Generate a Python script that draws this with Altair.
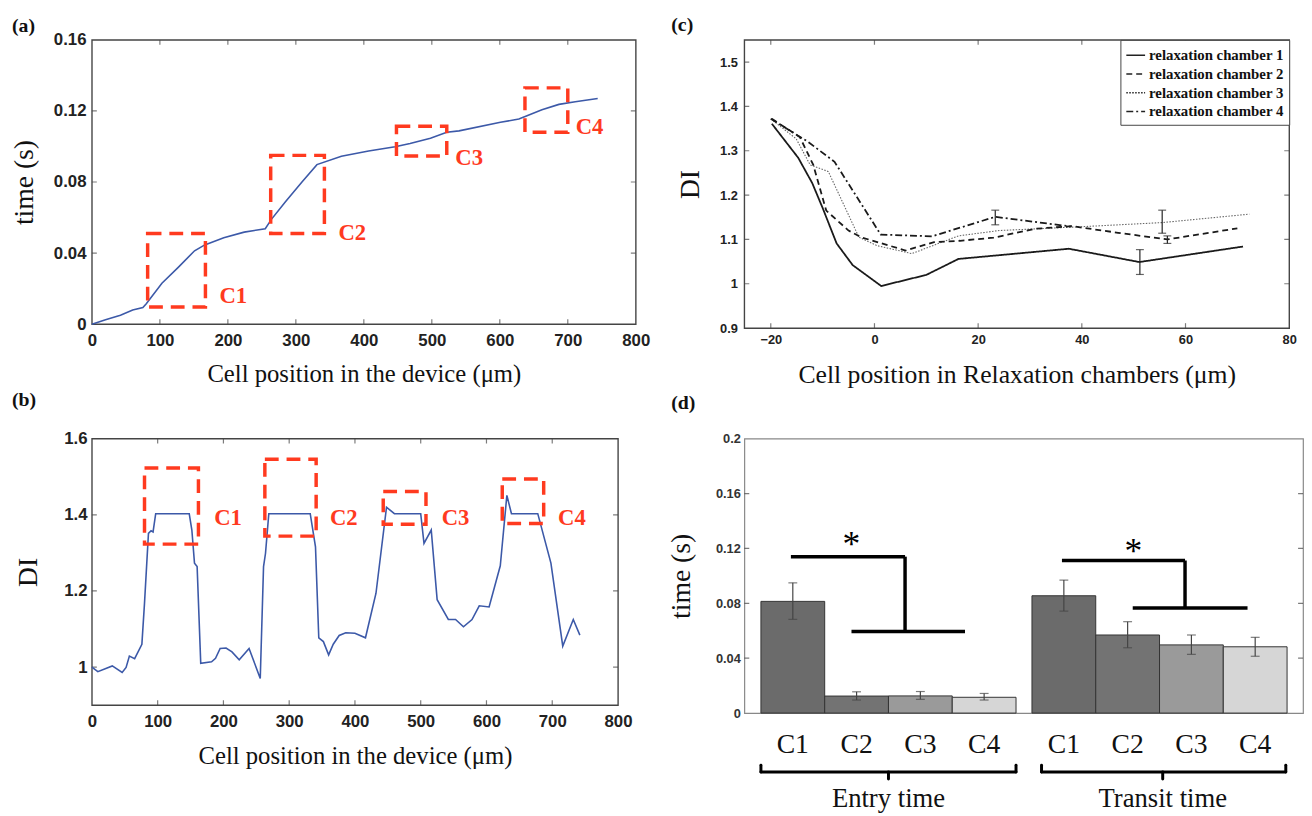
import altair as alt
import pandas as pd

SERIF = "Liberation Serif"
SANS = "Liberation Sans"
RED = "#ff3a1f"
BLUE = "#3c59a8"
FRAME = "#444444"

# ---------------- (a) time vs position ----------------
a_position = [0, 20, 42, 60, 75, 80, 103, 127, 151, 166, 194, 224, 255, 264, 285, 309, 331,
              367, 407, 446, 468, 498, 522, 540, 601, 628, 640, 662, 687, 711, 744]
a_time = [0, 0.0025, 0.005, 0.008, 0.0093, 0.0115, 0.023, 0.032, 0.0413, 0.0446, 0.0486, 0.0518,
          0.0537, 0.059, 0.069, 0.080, 0.0898, 0.0945, 0.0975, 0.0999, 0.1017, 0.1047, 0.108,
          0.1088, 0.1136, 0.1155, 0.1173, 0.1207, 0.1237, 0.1252, 0.127]
a_box_x1 = [82, 263, 448, 637]
a_box_x2 = [167, 342, 522, 700]
a_box_y1 = [0.0097, 0.051, 0.0947, 0.108]
a_box_y2 = [0.051, 0.095, 0.1114, 0.133]
a_lab_x = [208, 383, 555, 732]
a_lab_y = [0.016, 0.0514, 0.0932, 0.111]
box_names = ["C1", "C2", "C3", "C4"]

# ---------------- (b) DI vs position ----------------
b_position = [0, 9, 31, 46, 52, 57, 65, 76, 80, 86, 90, 93, 97, 148, 152, 156, 160, 165.5, 182, 188,
              195, 204, 213, 224, 239, 256, 261, 264, 269, 332, 340, 345, 352, 360, 367, 376, 386, 400,
              416, 432, 448, 460, 500, 505, 516, 525, 542, 553, 565, 578, 589, 604, 621, 631, 638, 678,
              698, 716, 732, 742]
b_di = [1.0, 0.988, 1.003, 0.986, 0.999, 1.029, 1.022, 1.06, 1.168, 1.351, 1.358, 1.355, 1.403, 1.403,
        1.36, 1.273, 1.264, 1.01, 1.014, 1.023, 1.049, 1.05, 1.04, 1.019, 1.049, 0.970, 1.264, 1.299,
        1.403, 1.403, 1.316, 1.077, 1.067, 1.032, 1.06, 1.083, 1.090, 1.089, 1.077, 1.194, 1.42, 1.403,
        1.403, 1.325, 1.36, 1.177, 1.125, 1.125, 1.106, 1.125, 1.161, 1.158, 1.266, 1.451, 1.403, 1.403,
        1.273, 1.055, 1.125, 1.084]
b_box_x1 = [80, 263, 443, 624]
b_box_x2 = [162, 341, 508, 687]
b_box_y1 = [1.323, 1.344, 1.375, 1.377]
b_box_y2 = [1.523, 1.546, 1.461, 1.494]
b_lab_x = [207, 383, 553, 730]
b_lab_y = [1.392, 1.392, 1.392, 1.392]

# ---------------- (c) relaxation chambers ----------------
ch_names = ["relaxation chamber 1", "relaxation chamber 2", "relaxation chamber 3", "relaxation chamber 4"]
c1_x = [-19.8, -14.7, -12, -10, -7.3, -4.2, 1.3, 10, 16.2, 37.5, 51.1, 71.1]
c1_y = [1.361, 1.284, 1.227, 1.171, 1.091, 1.042, 0.995, 1.02, 1.056, 1.079, 1.049, 1.084]
c2_x = [-19.8, -14.4, -11.8, -9.3, -5, -2.6, 6, 11.5, 16.5, 23, 31, 38, 47, 56.5, 70]
c2_y = [1.372, 1.331, 1.268, 1.165, 1.12, 1.105, 1.075, 1.094, 1.097, 1.104, 1.124, 1.13, 1.115, 1.10, 1.125]
c3_x = [-20, -15.1, -12.4, -8.9, -3, 0.5, 7.2, 16.2, 24, 40.5, 55.5, 72.3]
c3_y = [1.372, 1.327, 1.268, 1.253, 1.105, 1.086, 1.068, 1.108, 1.12, 1.129, 1.138, 1.157]
c4_x = [-20, -12.8, -7.7, 1.2, 11.1, 23.3, 38]
c4_y = [1.372, 1.32, 1.275, 1.111, 1.107, 1.151, 1.129]
c_err_x = [23.3, 51.2, 55.5, 56.5]
c_err_lo = [1.133, 1.021, 1.114, 1.091]
c_err_hi = [1.166, 1.077, 1.166, 1.108]

# ---------------- (d) bar chart ----------------
d_group = ["Entry time"] * 4 + ["Transit time"] * 4
d_cat = ["C1", "C2", "C3", "C4"] * 2
d_center = [1, 2, 3, 4, 5.25, 6.25, 7.25, 8.25]
d_mean = [0.0814, 0.0124, 0.0125, 0.0115, 0.0855, 0.0569, 0.0497, 0.0483]
d_lo = [0.0683, 0.0095, 0.0100, 0.0095, 0.0743, 0.0476, 0.0428, 0.0414]
d_hi = [0.0949, 0.0155, 0.0157, 0.0143, 0.0969, 0.0666, 0.0569, 0.0552]
d_fill = ["#6b6b6b", "#737373", "#9a9a9a", "#d6d6d6"] * 2
br_x1 = [0.97, 2.76, 1.92, 5.22, 7.15, 6.33]
br_x2 = [2.76, 2.76, 3.70, 7.15, 7.15, 8.13]
br_y1 = [0.114, 0.114, 0.0595, 0.1112, 0.1112, 0.0766]
br_y2 = [0.114, 0.0595, 0.0595, 0.1112, 0.0766, 0.0766]
star_x = [1.92, 6.34]
star_y = [0.1145, 0.1095]
brace_x1 = [0.5, 4.9]
brace_x2 = [4.5, 8.73]
brace_mid = [2.5, 6.8]
brace_y = -0.043
cat_label_y = -0.0236
group_label_y = -0.0625


# ---------------- helpers ----------------
def xenc(field, dom, axis):
    return alt.X(f"{field}:Q", scale=alt.Scale(domain=dom, nice=False, zero=False), axis=axis)


def yenc(field, dom, axis):
    return alt.Y(f"{field}:Q", scale=alt.Scale(domain=dom, nice=False, zero=False), axis=axis)


def inside_ticks(xticks, yticks, xdom, ydom, xax, yax, top=True, bottom=True):
    layers = []
    tx, ty = [], []
    if bottom:
        tx += list(xticks)
        ty += [ydom[0]] * len(xticks)
    if top:
        tx += list(xticks)
        ty += [ydom[1]] * len(xticks)
    if tx:
        df = pd.DataFrame({"tx": tx, "ty": ty})
        layers.append(alt.Chart(df).mark_tick(orient="vertical", size=10, thickness=1.2,
                                              color=FRAME, clip=True)
                      .encode(x=xenc("tx", xdom, xax), y=yenc("ty", ydom, yax)))
    if yticks:
        df = pd.DataFrame({"tx": [xdom[0]] * len(yticks) + [xdom[1]] * len(yticks),
                           "ty": list(yticks) * 2})
        layers.append(alt.Chart(df).mark_tick(orient="horizontal", size=10, thickness=1.2,
                                              color=FRAME, clip=True)
                      .encode(x=xenc("tx", xdom, xax), y=yenc("ty", ydom, yax)))
    return layers


def panel_title(text, dx, offset):
    return alt.TitleParams(text=text, anchor="start", frame="group", dx=dx, offset=offset,
                           font=SERIF, fontSize=20, fontWeight="bold", color="#111")


def lin_axis(values, fmt, size, pad, title, tsize, tx=None, ty=None, lcolor="#222"):
    kw = dict(values=values, format=fmt, ticks=False, domain=False, grid=False,
              labelFont=SANS, labelFontWeight="bold", labelFontSize=size, labelColor=lcolor,
              labelPadding=pad, labelFlush=False, labelOverlap=False,
              title=title, titleFont=SERIF, titleFontSize=tsize, titleFontWeight="normal",
              titleColor="#111", titleBaseline="middle")
    if tx is not None:
        kw["titleX"] = tx
    if ty is not None:
        kw["titleY"] = ty
    return alt.Axis(**kw)


def boxes_layers(x1, x2, y1, y2, lx, ly, xdom, ydom, xax, yax):
    bdf = pd.DataFrame({"x1": x1, "x2": x2, "y1": y1, "y2": y2})
    box = alt.Chart(bdf).mark_rect(fillOpacity=0, stroke=RED, strokeWidth=3.5,
                                   strokeDash=[14, 8]).encode(
        x=xenc("x1", xdom, xax), x2="x2:Q", y=yenc("y1", ydom, yax), y2="y2:Q")
    ldf = pd.DataFrame({"lx": lx, "ly": ly, "name": box_names})
    lab = alt.Chart(ldf).mark_text(font=SERIF, fontSize=23, fontWeight="bold", color=RED,
                                   baseline="middle", align="center").encode(
        x=xenc("lx", xdom, xax), y=yenc("ly", ydom, yax), text="name:N")
    return [box, lab]


VIEW = alt.ViewBackground(stroke=FRAME, strokeWidth=1.4, fill="white")

# ---------------- panel (a) ----------------
a_xdom, a_ydom = [0, 800], [0, 0.16]
a_xax = lin_axis(list(range(0, 801, 100)), "d", 17, 9, "Cell position in the device (μm)", 25, ty=50)
a_yax = lin_axis([0, 0.04, 0.08, 0.12, 0.16], ".2~f", 17, 6, "time (s)", 28, tx=-68)
a_df = pd.DataFrame({"pos": a_position, "t": a_time})
a_line = alt.Chart(a_df).mark_line(color=BLUE, strokeWidth=1.6).encode(
    x=xenc("pos", a_xdom, a_xax), y=yenc("t", a_ydom, a_yax))
chart_a = alt.layer(
    *inside_ticks(list(range(100, 701, 100)), [0.04, 0.08, 0.12], a_xdom, a_ydom, a_xax, a_yax),
    a_line,
    *boxes_layers(a_box_x1, a_box_x2, a_box_y1, a_box_y2, a_lab_x, a_lab_y, a_xdom, a_ydom, a_xax, a_yax),
).properties(width=551, height=288, title=panel_title("(a)", -81, -5), view=VIEW)

# ---------------- panel (b) ----------------
b_xdom, b_ydom = [0, 800], [0.9, 1.6]
b_xax = lin_axis(list(range(0, 801, 100)), "d", 17, 9, "Cell position in the device (μm)", 25, ty=51)
b_yax = lin_axis([1.0, 1.2, 1.4, 1.6], "~g", 17, 5, "DI", 28, tx=-64)
b_df = pd.DataFrame({"pos": b_position, "di": b_di})
b_line = alt.Chart(b_df).mark_line(color=BLUE, strokeWidth=1.6).encode(
    x=xenc("pos", b_xdom, b_xax), y=yenc("di", b_ydom, b_yax))
chart_b = alt.layer(
    *inside_ticks(list(range(100, 701, 100)), [1.0, 1.2, 1.4], b_xdom, b_ydom, b_xax, b_yax),
    b_line,
    *boxes_layers(b_box_x1, b_box_x2, b_box_y1, b_box_y2, b_lab_x, b_lab_y, b_xdom, b_ydom, b_xax, b_yax),
).properties(width=533, height=270, title=panel_title("(b)", -81, 20), view=VIEW)

# ---------------- panel (c) ----------------
c_xdom, c_ydom = [-25.1, 80], [0.9, 1.55]
c_xax = lin_axis([-20, 0, 20, 40, 60, 80], "d", 13, 6, "Cell position in Relaxation chambers (μm)", 26, ty=47)
c_yax = lin_axis([0.9, 1.0, 1.1, 1.2, 1.3, 1.4, 1.5], "~g", 13, 7, "DI", 28, tx=-54)
rows = []
for name, xs, ys in zip(ch_names, [c1_x, c2_x, c3_x, c4_x], [c1_y, c2_y, c3_y, c4_y]):
    for xv, yv in zip(xs, ys):
        rows.append({"cx": xv, "cy": yv, "ch": name})
c_df = pd.DataFrame(rows)
c_main = c_df[c_df["ch"] != ch_names[2]]
c_third = c_df[c_df["ch"] == ch_names[2]]
c_lines = alt.Chart(c_main).mark_line(color="#1a1a1a", strokeWidth=1.8).encode(
    x=xenc("cx", c_xdom, c_xax), y=yenc("cy", c_ydom, c_yax),
    strokeDash=alt.StrokeDash("ch:N", scale=alt.Scale(domain=ch_names,
                                                      range=[[1, 0], [6, 4], [1.5, 1.5], [7, 3, 2, 3]]),
                              legend=alt.Legend(title=None, orient="top-right", offset=0, padding=5,
                                                strokeColor=FRAME, fillColor="white",
                                                labelFont=SERIF, labelFontSize=15, labelFontWeight="bold",
                                                labelColor="#111", symbolType="stroke", symbolSize=361,
                                                symbolStrokeColor="#222", symbolStrokeWidth=1.5,
                                                rowPadding=0, labelOffset=3)),
)
c_line3 = alt.Chart(c_third).mark_line(color="#666666", strokeWidth=1.1, strokeDash=[1.5, 1.5]).encode(
    x=xenc("cx", c_xdom, c_xax), y=yenc("cy", c_ydom, c_yax))
ce_df = pd.DataFrame({"ex": c_err_x, "elo": c_err_lo, "ehi": c_err_hi})
c_err = alt.Chart(ce_df).mark_rule(color="#222", strokeWidth=1.2).encode(
    x=xenc("ex", c_xdom, c_xax), y=yenc("elo", c_ydom, c_yax), y2="ehi:Q")
cc_df = pd.DataFrame({"ex": c_err_x * 2, "ey": c_err_lo + c_err_hi})
c_caps = alt.Chart(cc_df).mark_tick(orient="horizontal", size=8, thickness=1.2, color="#222").encode(
    x=xenc("ex", c_xdom, c_xax), y=yenc("ey", c_ydom, c_yax))
chart_c = alt.layer(
    *inside_ticks([-20, 0, 20, 40, 60], [1.0, 1.1, 1.2, 1.3, 1.4, 1.5], c_xdom, c_ydom, c_xax, c_yax),
    c_line3, c_lines, c_err, c_caps,
).properties(width=552, height=292, title=panel_title("(c)", -74, 5), view=VIEW)

# ---------------- panel (d) ----------------
d_xdom, d_ydom = [0.24, 9.0], [0, 0.2]
d_xax = None
d_yax = lin_axis([0, 0.04, 0.08, 0.12, 0.16, 0.2], ".2~f", 13, 4, "time (s)", 28, tx=-64, lcolor="#333")
d_df = pd.DataFrame({"group": d_group, "cat": d_cat, "center": d_center, "mean": d_mean,
                     "lo": d_lo, "hi": d_hi, "fill": d_fill})
d_df["left"] = d_df["center"] - 0.5
d_df["right"] = d_df["center"] + 0.5
d_df["zero"] = 0.0
d_bars = alt.Chart(d_df).mark_rect(stroke="#333", strokeWidth=1).encode(
    x=xenc("left", d_xdom, d_xax), x2="right:Q", y=yenc("mean", d_ydom, d_yax), y2="zero:Q",
    fill=alt.Fill("fill:N", scale=None))
d_err = alt.Chart(d_df).mark_rule(color="#444", strokeWidth=1.2).encode(
    x=xenc("center", d_xdom, d_xax), y=yenc("lo", d_ydom, d_yax), y2="hi:Q")
dc_df = pd.DataFrame({"cx": d_center * 2, "cy": d_lo + d_hi})
d_caps = alt.Chart(dc_df).mark_tick(orient="horizontal", size=9, thickness=1.2, color="#444").encode(
    x=xenc("cx", d_xdom, d_xax), y=yenc("cy", d_ydom, d_yax))
br_df = pd.DataFrame({"x1": br_x1, "x2": br_x2, "y1": br_y1, "y2": br_y2})
d_br = alt.Chart(br_df).mark_rule(color="#000", strokeWidth=3.5).encode(
    x=xenc("x1", d_xdom, d_xax), x2="x2:Q", y=yenc("y1", d_ydom, d_yax), y2="y2:Q")
st_df = pd.DataFrame({"sx": star_x, "sy": star_y, "s": ["*", "*"]})
d_star = alt.Chart(st_df).mark_text(font=SERIF, fontSize=36, color="#000", baseline="alphabetic").encode(
    x=xenc("sx", d_xdom, d_xax), y=yenc("sy", d_ydom, d_yax), text="s:N")
cl_df = pd.DataFrame({"lx": d_center, "ly": [cat_label_y] * 8, "t": d_cat})
d_catlab = alt.Chart(cl_df).mark_text(font=SERIF, fontSize=28, color="#111", baseline="middle").encode(
    x=xenc("lx", d_xdom, d_xax), y=yenc("ly", d_ydom, d_yax), text="t:N")
gl_df = pd.DataFrame({"lx": brace_mid, "ly": [group_label_y] * 2, "t": ["Entry time", "Transit time"]})
d_grplab = alt.Chart(gl_df).mark_text(font=SERIF, fontSize=27, color="#111", baseline="middle").encode(
    x=xenc("lx", d_xdom, d_xax), y=yenc("ly", d_ydom, d_yax), text="t:N")
# braces: horizontal bar, raised ends, centre point
seg_x1 = brace_x1 + brace_x1 + brace_x2 + brace_mid
seg_x2 = brace_x2 + brace_x1 + brace_x2 + brace_mid
seg_y1 = [brace_y] * 8
seg_y2 = [brace_y] * 2 + [brace_y + 0.005] * 4 + [brace_y - 0.005] * 2
bz_df = pd.DataFrame({"x1": seg_x1, "x2": seg_x2, "y1": seg_y1, "y2": seg_y2})
d_brace = alt.Chart(bz_df).mark_rule(color="#000", strokeWidth=3, strokeCap="round").encode(
    x=xenc("x1", d_xdom, d_xax), x2="x2:Q", y=yenc("y1", d_ydom, d_yax), y2="y2:Q")
chart_d = alt.layer(
    *inside_ticks([], [0.04, 0.08, 0.12, 0.16], d_xdom, d_ydom, d_xax, d_yax, top=False, bottom=False),
    d_bars, d_err, d_caps, d_br, d_star, d_catlab, d_grplab, d_brace,
).properties(width=566, height=278, title=panel_title("(d)", -74, 20),
             view=alt.ViewBackground(stroke="#888888", strokeWidth=1.2, fill="white"))

chart = alt.concat(
    chart_a, chart_c, chart_b, chart_d, columns=2,
    spacing=alt.RowColnumber(row=112, column=110), bounds="flush",
).resolve_scale(strokeDash="independent").resolve_legend(strokeDash="independent").properties(
    padding={"left": 2, "top": 0, "right": 0, "bottom": 0}
).configure(background="white")

chart.save("out.html", embed_options={"renderer": "svg", "actions": False})
